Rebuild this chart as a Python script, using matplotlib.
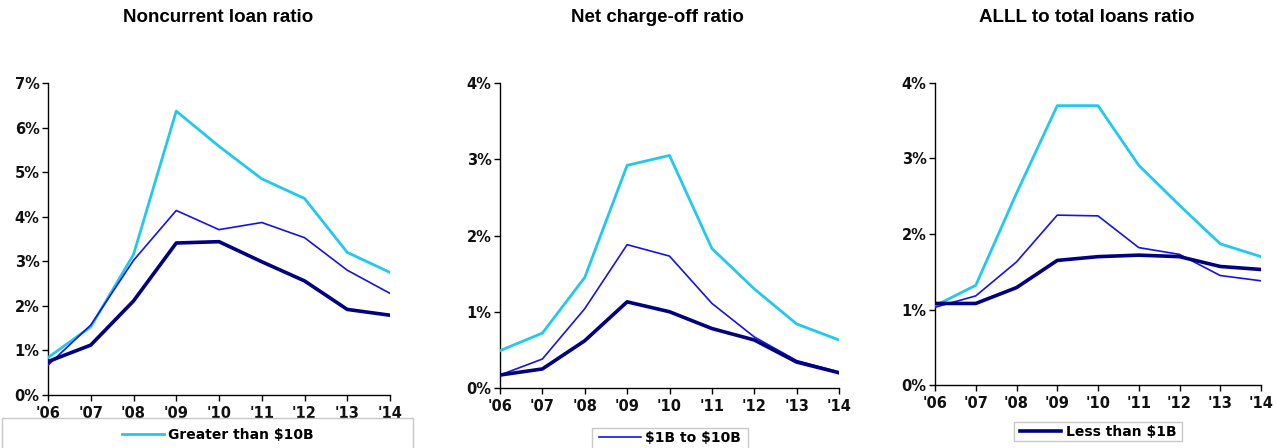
import numpy as np
import matplotlib.pyplot as plt
from matplotlib.patches import Rectangle
from matplotlib.lines import Line2D

plt.rcParams["text.parse_math"] = False  # keep "$" signs literal

years = ["'06", "'07", "'08", "'09", "'10", "'11", "'12", "'13", "'14"]

# noncurrent loan ratio, %
noncurrent_large = [0.84, 1.53, 3.15, 6.37, 5.58, 4.85, 4.41, 3.20, 2.75]
noncurrent_mid = [0.67, 1.57, 3.02, 4.14, 3.71, 3.87, 3.53, 2.80, 2.28]
noncurrent_small = [0.75, 1.12, 2.11, 3.41, 3.44, 2.99, 2.56, 1.92, 1.79]

# net charge-off ratio, %
chargeoff_large = [0.49, 0.72, 1.45, 2.92, 3.05, 1.83, 1.30, 0.84, 0.63]
chargeoff_mid = [0.17, 0.38, 1.04, 1.88, 1.73, 1.11, 0.67, 0.36, 0.21]
chargeoff_small = [0.17, 0.25, 0.62, 1.13, 1.00, 0.78, 0.63, 0.34, 0.20]

# ALLL to total loans ratio, %
alll_large = [1.05, 1.32, 2.54, 3.70, 3.70, 2.91, 2.38, 1.87, 1.70]
alll_mid = [1.03, 1.18, 1.63, 2.25, 2.24, 1.82, 1.73, 1.45, 1.38]
alll_small = [1.08, 1.08, 1.29, 1.65, 1.70, 1.72, 1.70, 1.57, 1.53]

titles = ["Noncurrent loan ratio", "Net charge-off ratio", "ALLL to total loans ratio"]
legend_labels = ["Greater than $10B", "$1B to $10B", "Less than $1B"]
y_max = [7, 4, 4]

c_large = "#22C8EE"
c_mid = "#1414E6"
c_small = "#000080"
styles = [(c_large, 2.0), (c_mid, 1.2), (c_small, 2.6)]

W, H = 1276, 448
fig = plt.figure(figsize=(W / 100, H / 100), dpi=100)

def px_axes(x0, x1, y0, y1):
    return fig.add_axes([x0 / W, 1 - y1 / H, (x1 - x0) / W, (y1 - y0) / H])

axes = [px_axes(48, 390, 83, 395), px_axes(500, 839, 83, 388), px_axes(935, 1261, 83, 385)]
data = [
    [noncurrent_large, noncurrent_mid, noncurrent_small],
    [chargeoff_large, chargeoff_mid, chargeoff_small],
    [alll_large, alll_mid, alll_small],
]
title_x = [218, 657, 1087]

tick_font = dict(family="DejaVu Sans", weight="bold", size=10.5, color="#111111")
x = np.arange(len(years))

for ax, series, ymax, title, tx in zip(axes, data, y_max, titles, title_x):
    # small-bank line goes on top
    for i in [0, 1, 2]:
        col, lw = styles[i]
        ax.plot(x, series[i], color=col, lw=lw, solid_joinstyle="round", zorder=3 + i)
    ax.set_xlim(0, len(years) - 1)
    ax.set_ylim(0, ymax)
    ax.set_xticks(x)
    ax.set_xticklabels(years, fontdict=tick_font)
    ax.set_yticks(range(ymax + 1))
    ax.set_yticklabels([f"{v}%" for v in range(ymax + 1)], fontdict=tick_font)
    ax.tick_params(axis="both", direction="out", length=4, width=1, color="black")
    ax.tick_params(axis="x", pad=4)
    ax.tick_params(axis="y", pad=2)
    for s in ["top", "right"]:
        ax.spines[s].set_visible(False)
    for s in ["left", "bottom"]:
        ax.spines[s].set_linewidth(1.0)
    fig.text(tx / W, 1 - 18 / H, title, ha="center", va="center",
             family="Liberation Sans", weight="bold", fontsize=13.5)

# legend boxes below each panel
boxes = [(2, 418, 413, 452), (592, 428, 748, 452), (1014, 422, 1182, 441)]
for (x0, y0, x1, y1) in boxes:
    fig.patches.append(Rectangle((x0 / W, 1 - y1 / H), (x1 - x0) / W, (y1 - y0) / H,
                                 transform=fig.transFigure, fill=False,
                                 edgecolor="#C8C8C8", lw=1.0))

leg_pos = [(218, 435), (670, 438), (1098, 432)]
for (cx, cy), label, (col, lw) in zip(leg_pos, legend_labels, styles):
    h = Line2D([], [], color=col, lw=lw)
    fig.legend([h], [label], loc="center", bbox_to_anchor=(cx / W, 1 - cy / H),
               frameon=False, handlelength=3.0, handletextpad=0.3,
               prop=dict(family="DejaVu Sans", weight="bold", size=10))

fig.savefig("out.png", dpi=100)
